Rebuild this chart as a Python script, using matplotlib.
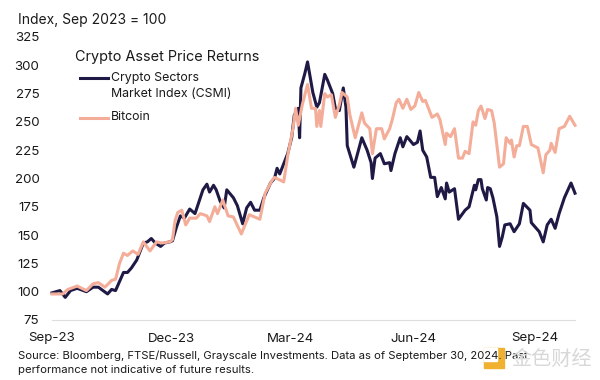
import matplotlib
matplotlib.use('Agg')
import matplotlib.pyplot as plt
from matplotlib.lines import Line2D
from matplotlib.patches import Rectangle

# days since 1 Sep 2023
csmi_days = [0, 6, 10, 14, 19, 26, 31, 35, 42, 45, 48, 54, 57, 60, 64, 66, 69, 72, 75, 78, 82, 85, 89, 91,
             94, 97, 100, 104, 108, 112, 114, 117, 119, 122, 124, 127, 130, 132, 137, 140, 144, 147, 150, 153,
             157, 160, 165, 168, 170, 172, 175, 178, 181, 183, 186, 187, 188, 191, 193, 197, 200, 202, 206,
             208, 212, 214, 217, 220, 222, 223, 228, 234, 238, 241, 242, 244, 248, 251, 255, 256, 259, 263,
             265, 268, 273, 276, 278, 280, 283, 286, 289, 291, 294, 297, 298, 300, 304, 307, 312, 315, 319,
             320, 322, 324, 325, 328, 329, 331, 333, 336, 338, 340, 342, 346, 349, 353, 356, 361, 362, 368,
             371, 374, 377, 380, 383, 387, 392, 395]
csmi_values = [99, 101, 95, 101, 103, 100, 104, 104, 98, 102, 101, 117, 117, 121, 128, 134, 143, 144, 147, 143,
               140, 143, 144, 145, 157, 167, 165, 173, 169, 183, 190, 195, 188, 194, 190, 180, 174, 190, 183,
               176, 160, 174, 179, 172, 172, 183, 196, 200, 209, 204, 213, 222, 236, 256, 262, 236, 280, 293,
               303, 276, 263, 267, 292, 287, 275, 262, 260, 280, 263, 229, 210, 236, 225, 214, 200, 218, 222,
               213, 214, 207, 222, 236, 228, 237, 230, 232, 242, 225, 219, 201, 201, 184, 192, 182, 196, 188,
               191, 164, 172, 175, 194, 190, 199, 199, 191, 181, 192, 191, 183, 166, 140, 148, 159, 160, 153,
               160, 178, 172, 161, 153, 144, 159, 164, 156, 169, 183, 196, 187]

btc_days = [0, 8, 12, 19, 26, 31, 35, 40, 45, 48, 51, 54, 57, 61, 65, 69, 74, 79, 83, 89, 91, 93, 95, 98, 101,
            104, 109, 112, 117, 119, 123, 125, 129, 133, 137, 143, 149, 157, 161, 166, 168, 175, 178, 182, 184,
            186, 189, 193, 196, 199, 200, 202, 203, 206, 208, 211, 214, 217, 219, 223, 225, 229, 234, 236, 240,
            242, 245, 249, 251, 255, 257, 260, 262, 265, 268, 271, 274, 277, 280, 282, 287, 291, 293, 297, 298,
            301, 304, 307, 310, 312, 315, 318, 320, 322, 324, 327, 329, 332, 334, 338, 341, 343, 346, 347, 349,
            351, 353, 356, 359, 362, 367, 371, 373, 376, 377, 380, 383, 387, 391, 395]
btc_values = [98, 98, 102, 105, 101, 107, 108, 104, 110, 111, 125, 134, 132, 136, 133, 144, 136, 144, 143, 144,
              146, 163, 170, 172, 159, 165, 165, 169, 167, 162, 175, 169, 181, 167, 166, 151, 168, 164, 187,
              198, 201, 197, 220, 244, 262, 247, 265, 283, 262, 262, 246, 260, 246, 275, 272, 274, 254, 265,
              276, 272, 256, 236, 258, 249, 244, 222, 244, 244, 235, 244, 252, 267, 270, 262, 270, 261, 264,
              276, 268, 269, 254, 257, 252, 230, 240, 237, 244, 218, 218, 224, 222, 250, 247, 260, 264, 253,
              261, 260, 249, 210, 213, 236, 231, 234, 219, 229, 229, 246, 246, 230, 227, 205, 221, 225, 231,
              223, 244, 246, 255, 247]

tick_days = [0, 90, 180, 273, 365]
tick_labels = ['Sep-23', 'Dec-23', 'Mar-24', 'Jun-24', 'Sep-24']
y_ticks = list(range(75, 326, 25))

dark = '#1f1a45'
salmon = '#f4ad98'
txt = '#1a1a1a'

plt.rcParams['font.family'] = ['Inter', 'DejaVu Sans']

fig = plt.figure(figsize=(6, 3.8), dpi=100)
ax = fig.add_axes([52 / 600, 1 - 320 / 380, 523 / 600, 283 / 380])

ax.plot(csmi_days, csmi_values, color=dark, lw=2.2, clip_on=False)
ax.plot(btc_days, btc_values, color=salmon, lw=2.2, clip_on=False)

ax.set_xlim(0, 395)
ax.set_ylim(75, 325)
ax.set_xticks(tick_days)
ax.set_xticklabels(tick_labels)
ax.set_yticks(y_ticks)
ax.tick_params(length=0, labelsize=9.6, labelcolor=txt)
ax.tick_params(axis='y', pad=9)
ax.tick_params(axis='x', pad=9)
for s in ['top', 'right', 'left']:
    ax.spines[s].set_visible(False)
ax.spines['bottom'].set_color('#dddddd')

# titel e legenda a mao
fig.text(18 / 600, 1 - 20 / 380, 'Index, Sep 2023 = 100', fontsize=10.0, color=txt, va='center')
fig.text(75 / 600, 1 - 57 / 380, 'Crypto Asset Price Returns', fontsize=10.4, color=txt, va='center')
fig.text(111 / 600, 1 - 78 / 380, 'Crypto Sectors', fontsize=8.9, color=txt, va='center')
fig.text(111 / 600, 1 - 94 / 380, 'Market Index (CSMI)', fontsize=8.9, color=txt, va='center')
fig.text(111 / 600, 1 - 117 / 380, 'Bitcoin', fontsize=8.9, color=txt, va='center')
fig.add_artist(Line2D([80 / 600, 108 / 600], [1 - 78 / 380] * 2, color=dark, lw=2.2))
fig.add_artist(Line2D([80 / 600, 108 / 600], [1 - 118 / 380] * 2, color=salmon, lw=2.2))

fig.text(18 / 600, 1 - 356 / 380, 'Source: Bloomberg, FTSE/Russell, Grayscale Investments. Data as of September 30, 2024. Past',
         fontsize=8.1, color=txt, va='center')
fig.text(18 / 600, 1 - 370 / 380, 'performance not indicative of future results.', fontsize=8.15, color=txt, va='center')

# marca de agua
fig.add_artist(Rectangle((484 / 600, 1 - 368 / 380), 20 / 600, 20 / 380, color='#f0b030', transform=fig.transFigure))
fig.add_artist(Rectangle((484 / 600, 1 - 361 / 380), 13 / 600, 13 / 380, color='white', transform=fig.transFigure))
fig.text(511 / 600, 1 - 359 / 380, '金色财经', fontsize=14.5, color='#d8d8d8', va='center',
         family=['Noto Sans CJK SC', 'DejaVu Sans'])

fig.savefig('out.png', dpi=100)
